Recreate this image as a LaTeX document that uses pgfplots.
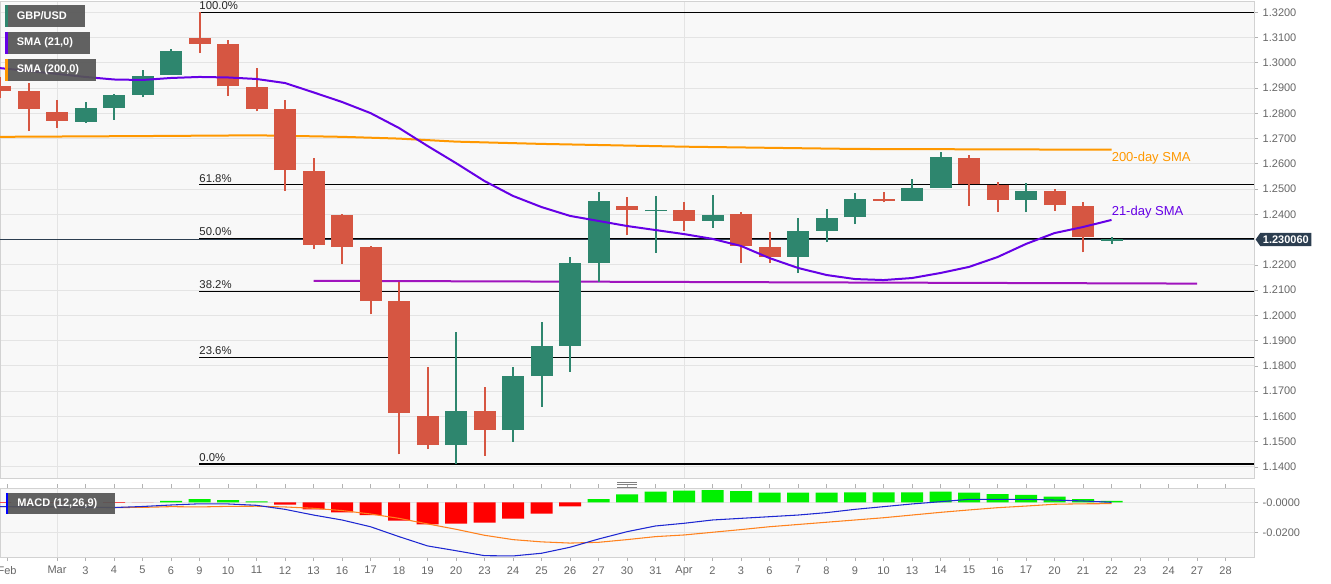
\documentclass[border=0pt]{standalone}
\usepackage{pgfplots}
\pgfplotsset{compat=1.18}
\usepackage{pgfplotstable}
\usepackage{fontspec}
\setmainfont{Liberation Sans}
\usetikzlibrary{shapes.symbols}

\definecolor{cgreen}{RGB}{46,134,110}
\definecolor{cred}{RGB}{214,86,66}
\definecolor{sma21}{RGB}{102,0,230}
\definecolor{sma200}{RGB}{255,152,0}
\definecolor{supp}{RGB}{160,20,190}
\definecolor{navy}{RGB}{44,62,80}
\definecolor{gridc}{RGB}{228,228,228}
\definecolor{bgc}{RGB}{248,248,248}
\definecolor{tickc}{RGB}{102,102,102}
\definecolor{hgreen}{RGB}{0,240,0}
\definecolor{hred}{RGB}{255,0,0}
\definecolor{macdblue}{RGB}{30,40,210}
\definecolor{macdorange}{RGB}{255,130,30}
\definecolor{boxc}{RGB}{85,85,85}

\pgfplotstableread{
i o h l c
1 1.2767 1.2844 1.2761 1.2820
2 1.2822 1.2875 1.2774 1.2871
3 1.2874 1.2970 1.2863 1.2948
4 1.2952 1.3054 1.2952 1.3048
14 1.1487 1.1936 1.1411 1.1623
16 1.1546 1.1797 1.1500 1.1760
17 1.1760 1.1973 1.1639 1.1880
18 1.1880 1.2230 1.1777 1.2206
19 1.2206 1.2487 1.2133 1.2454
21 1.2412 1.2472 1.2248 1.2417
23 1.2375 1.2476 1.2347 1.2398
26 1.2232 1.2384 1.2167 1.2334
27 1.2335 1.2420 1.2289 1.2387
28 1.2388 1.2483 1.2361 1.2461
30 1.2454 1.2539 1.2454 1.2503
31 1.2506 1.2648 1.2506 1.2626
34 1.2457 1.2523 1.2409 1.2494
37 1.2296 1.2312 1.2282 1.2301
}\greencandles

\pgfplotstableread{
i o h l c
-2 1.2908 1.2944 1.2860 1.2888
-1 1.2890 1.2921 1.2730 1.2818
0 1.2804 1.2853 1.2741 1.2770
5 1.3097 1.3200 1.3038 1.3076
6 1.3075 1.3089 1.2870 1.2907
7 1.2905 1.2978 1.2808 1.2818
8 1.2818 1.2853 1.2493 1.2574
9 1.2573 1.2624 1.2262 1.2279
10 1.2398 1.2400 1.2204 1.2270
11 1.2271 1.2275 1.2004 1.2057
12 1.2056 1.2131 1.1450 1.1613
13 1.1603 1.1795 1.1471 1.1487
15 1.1623 1.1715 1.1445 1.1546
20 1.2433 1.2468 1.2317 1.2417
22 1.2417 1.2448 1.2334 1.2375
24 1.2400 1.2409 1.2206 1.2275
25 1.2270 1.2329 1.2209 1.2232
29 1.2461 1.2487 1.2448 1.2453
32 1.2622 1.2635 1.2434 1.2520
33 1.2516 1.2529 1.2409 1.2457
35 1.2494 1.2502 1.2415 1.2437
36 1.2434 1.2448 1.2250 1.2309
}\redcandles

\pgfplotstableread{
i v
-2 1.2979
-1 1.2968
0 1.2956
1 1.2944
2 1.2934
3 1.2932
4 1.2940
5 1.2944
6 1.2942
7 1.2936
8 1.2920
9 1.2883
10 1.2845
11 1.2801
12 1.2742
13 1.2671
14 1.2603
15 1.2532
16 1.2473
17 1.2429
18 1.2394
19 1.2374
20 1.2354
21 1.2338
22 1.2322
23 1.2303
24 1.2275
25 1.2227
26 1.2188
27 1.2160
28 1.2144
29 1.2140
30 1.2148
31 1.2168
32 1.2192
33 1.2231
34 1.2283
35 1.2326
36 1.2350
37 1.2378
}\smaA

\pgfplotstableread{
i v
-2 1.2707
3 1.2710
7 1.2713
10 1.2707
12 1.2700
14 1.2688
17 1.2679
22 1.2668
28 1.2659
37 1.2656
}\smaB

\pgfplotstableread{
i v
4 0.0010
5 0.0022
6 0.0015
7 0.0007
19 0.0022
20 0.0053
21 0.0071
22 0.0078
23 0.0082
24 0.0075
25 0.0064
26 0.0064
27 0.0064
28 0.0067
29 0.0067
30 0.0067
31 0.0071
32 0.0064
33 0.0055
34 0.0049
35 0.0038
36 0.0022
37 0.0009
}\histpos

\pgfplotstableread{
i v
-2 -0.0003
-1 -0.0004
0 -0.0004
1 -0.0003
2 -0.0003
3 -0.0001
8 -0.0016
9 -0.0047
10 -0.0067
11 -0.0085
12 -0.0123
13 -0.0147
14 -0.0143
15 -0.0136
16 -0.0109
17 -0.0076
18 -0.0027
}\histneg

\pgfplotstableread{
i m s
-2 -0.0029 -0.0029
-1 -0.0030 -0.0031
0 -0.0031 -0.0033
1 -0.0033 -0.0034
2 -0.0035 -0.0035
3 -0.0028 -0.0034
4 -0.0018 -0.0029
5 -0.0010 -0.0031
6 -0.0011 -0.0027
7 -0.0020 -0.0026
8 -0.0047 -0.0031
9 -0.0085 -0.0040
10 -0.0118 -0.0055
11 -0.0163 -0.0078
12 -0.0229 -0.0107
13 -0.0291 -0.0144
14 -0.0323 -0.0180
15 -0.0356 -0.0220
16 -0.0358 -0.0249
17 -0.0340 -0.0264
18 -0.0300 -0.0272
19 -0.0245 -0.0267
20 -0.0196 -0.0249
21 -0.0158 -0.0229
22 -0.0140 -0.0218
23 -0.0118 -0.0200
24 -0.0107 -0.0182
25 -0.0096 -0.0163
26 -0.0085 -0.0148
27 -0.0069 -0.0133
28 -0.0047 -0.0118
29 -0.0029 -0.0103
30 -0.0011 -0.0085
31 0.0004 -0.0067
32 0.0020 -0.0051
33 0.0020 -0.0036
34 0.0020 -0.0025
35 0.0015 -0.0013
36 0.0009 -0.0010
37 0.0000 -0.0009
}\macd

\begin{document}
\begin{tikzpicture}
\useasboundingbox (0,0) rectangle (998.25pt,437.25pt);
\pgfplotsset{
  every axis/.append style={
    scale only axis, width=940.5pt, xmin=-2, xmax=42,
    axis background/.style={fill=bgc},
    axis line style={draw=gray!35},
    grid style={draw=gridc, line width=0.75pt},
    /pgf/number format/assume math mode=true,
    tick label style={font=\fontsize{8.25}{9}\selectfont, text=tickc},
    yticklabel pos=right,
    tick align=outside, major tick length=3pt,
    tick style={draw=gray!60, line width=0.6pt},
    clip mode=individual,
    scaled y ticks=false,
  },
  candle/.style={only marks, mark=*, mark size=0pt, mark options={draw opacity=0, fill opacity=0},
    error bars/y dir=plus, error bars/y explicit, error bars/error mark=none},
}
% ---------------- main panel
\begin{axis}[
  at={(0pt,78.75pt)}, anchor=south west, height=357.75pt,
  ymin=1.13564, ymax=1.32447,
  xtick={0,22}, xticklabels={}, xmajorgrids, x tick style={draw=none},
  ytick={1.14,1.15,1.16,1.17,1.18,1.19,1.20,1.21,1.22,1.24,1.25,1.26,1.27,1.28,1.29,1.30,1.31,1.32},
  ymajorgrids,
  y tick label style={/pgf/number format/.cd, fixed, fixed zerofill, precision=4},
]
% price line
\addplot[navy, line width=0.75pt] coordinates {(-2,1.23006) (42,1.23006)};
% Fibonacci levels
\addplot[black, line width=0.9pt] coordinates {(4.99,1.3200) (42,1.3200)};
\addplot[black, line width=0.9pt] coordinates {(4.99,1.2517) (42,1.2517)};
\addplot[black, line width=0.9pt] coordinates {(4.99,1.2306) (42,1.2306)};
\addplot[black, line width=0.9pt] coordinates {(4.99,1.2095) (42,1.2095)};
\addplot[black, line width=0.9pt] coordinates {(4.99,1.1834) (42,1.1834)};
\addplot[black, line width=0.9pt] coordinates {(4.99,1.1412) (42,1.1412)};
\foreach \lv/\lab in {1.3200/100.0, 1.2517/61.8, 1.2306/50.0, 1.2095/38.2, 1.1834/23.6, 1.1412/0.0}{
  \edef\tmp{\noexpand\node[anchor=south west, inner sep=0pt, yshift=1.6pt, font=\noexpand\fontsize{8.5}{9}\noexpand\selectfont, text=black!85] at (axis cs:4.99,\lv) {\lab\noexpand\%};}
  \tmp
}
% 200-day SMA
\addplot[sma200, line width=1.5pt] table[x=i,y=v] {\smaB};
% support line
\addplot[supp, line width=1.5pt] coordinates {(9,1.2137) (40,1.2126)};
% wicks
\addplot[candle, error bars/error bar style={line width=1.5pt, draw=cgreen}]
  table[x=i, y=l, y error expr=\thisrow{h}-\thisrow{l}] {\greencandles};
\addplot[candle, error bars/error bar style={line width=1.5pt, draw=cred}]
  table[x=i, y=l, y error expr=\thisrow{h}-\thisrow{l}] {\redcandles};
% bodies
\addplot[candle, error bars/error bar style={line width=16.5pt, draw=cgreen}]
  table[x=i, y=o, y error expr=\thisrow{c}-\thisrow{o}] {\greencandles};
\addplot[candle, error bars/error bar style={line width=16.5pt, draw=cred}]
  table[x=i, y=c, y error expr=\thisrow{o}-\thisrow{c}] {\redcandles};
% 21-day SMA
\addplot[sma21, line width=1.5pt] table[x=i,y=v] {\smaA};
% annotations
\node[anchor=west, inner sep=0pt, text=sma200, font=\fontsize{9.75}{10}\selectfont] at (axis cs:37,1.2623) {200-day SMA};
\node[anchor=west, inner sep=0pt, text=sma21, font=\fontsize{9.75}{10}\selectfont] at (axis cs:37,1.2409) {21-day SMA};
% last price label
\node[signal, signal to=west, signal pointer angle=110, fill=navy, text=white,
  font=\bfseries\fontsize{8.25}{9}\selectfont, inner xsep=2pt, inner ysep=2pt, anchor=west, xshift=1pt]
  at (axis cs:42,1.23006) {1.230060};
\end{axis}
% ---------------- MACD panel
\begin{axis}[
  at={(0pt,19.5pt)}, anchor=south west, height=51.75pt,
  ymin=-0.0365, ymax=0.00954,
  xtick={-1.75,0,1,2,3,4,5,6,7,8,9,10,11,12,13,14,15,16,17,18,19,20,21,22,23,24,25,26,27,28,29,30,31,32,33,34,35,36,37,38,39,40,41},
  xticklabels={Feb,Mar,3,4,5,6,9,10,11,12,13,16,17,18,19,20,23,24,25,26,27,30,31,Apr,2,3,6,7,8,9,10,13,14,15,16,17,20,21,22,23,24,27,28},
  x tick label style={yshift=-0.5pt},
  extra x ticks={0,22}, extra x tick labels={}, extra x tick style={grid=major, major tick length=0pt},
  ytick={-0.02,0}, yticklabels={-0.0200,-0.0000}, ymajorgrids,
]
\addplot[ybar, bar width=16.5pt, bar shift=0pt, fill=hgreen, draw=none] table[x=i,y=v] {\histpos};
\addplot[ybar, bar width=16.5pt, bar shift=0pt, fill=hred, draw=none] table[x=i,y=v] {\histneg};
\addplot[macdorange, line width=0.8pt] table[x=i,y=s] {\macd};
\addplot[macdblue, line width=0.8pt] table[x=i,y=m] {\macd};
\end{axis}
% ---------------- overlays in pixel coordinates
\begin{scope}[x=0.75pt, y=-0.75pt, yshift=437.25pt]
  \fill[boxc, fill opacity=0.92] (5,5) rectangle (85,27);
  \fill[cgreen] (5,5) rectangle (7.5,27);
  \node[anchor=west, inner sep=0pt, text=white, font=\bfseries\fontsize{8.25}{9}\selectfont] at (16.5,16) {GBP/USD};
  \fill[boxc, fill opacity=0.92] (5,32) rectangle (90,54);
  \fill[sma21] (5,32) rectangle (7.5,54);
  \node[anchor=west, inner sep=0pt, text=white, font=\bfseries\fontsize{8.25}{9}\selectfont] at (16.5,43) {SMA (21,0)};
  \fill[boxc, fill opacity=0.92] (5,59) rectangle (96,81);
  \fill[sma200] (5,59) rectangle (7.5,81);
  \node[anchor=west, inner sep=0pt, text=white, font=\bfseries\fontsize{8.25}{9}\selectfont] at (16.5,70) {SMA (200,0)};
  \fill[boxc, fill opacity=0.92] (5.5,493) rectangle (114.5,514);
  \fill[blue] (5.5,493) rectangle (8,514);
  \node[anchor=west, inner sep=0pt, text=white, font=\bfseries\fontsize{8.25}{9}\selectfont] at (17,503.5) {MACD (12,26,9)};
  \draw[gray, line width=0.6pt] (617,482) -- (637,482) (617,484.5) -- (637,484.5) (617,487) -- (637,487);
\end{scope}
\end{tikzpicture}
\end{document}
